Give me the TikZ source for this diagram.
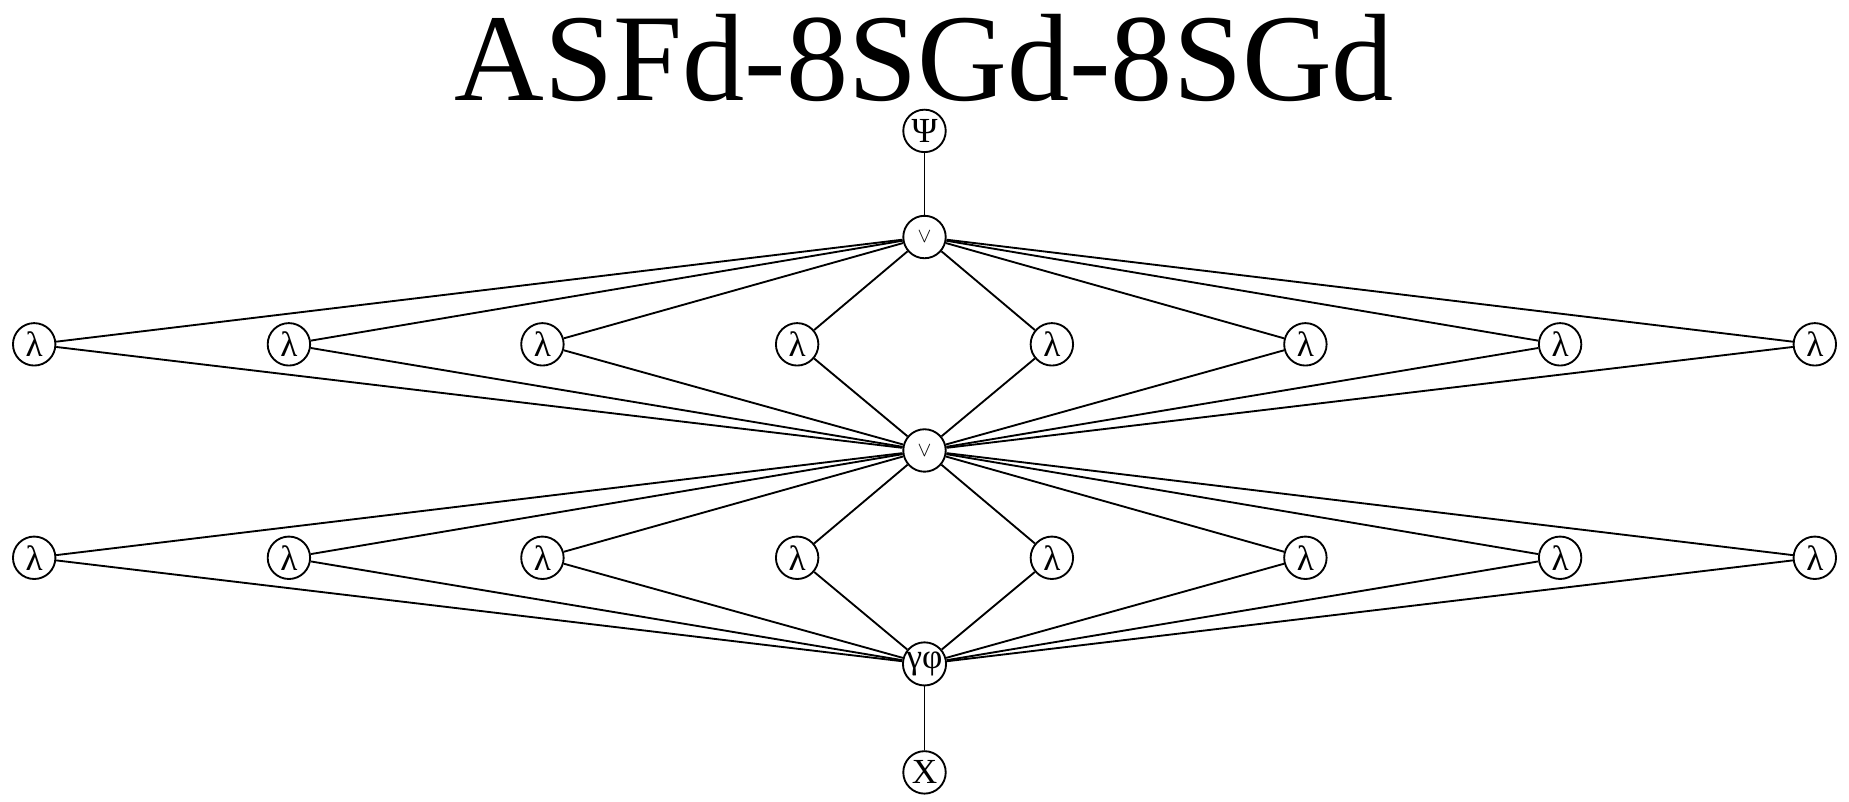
\documentclass[tikz,border=0pt]{standalone}
\usepackage{fontspec}
\setmainfont{Liberation Serif}
\begin{document}
\begin{tikzpicture}[x=0.02cm,y=-0.02cm,
  nd/.style={circle,draw,line width=0.9pt,minimum size=0.72cm,inner sep=0pt,font=\fontsize{17}{17}\selectfont},
  ed/.style={line width=0.9pt}]
\useasboundingbox (0,0) rectangle (1568,680);
\node[font=\fontsize{60}{60}\selectfont,inner sep=0pt] (title) at (784,49) {ASFd-8SGd-8SGd};
\node[nd] (psi) at (784,111) {Ψ};
\node[nd] (or1) at (784,201) {\normalsize$\vee$};
\node[nd] (or2) at (784,382) {\normalsize$\vee$};
\node[nd] (gp) at (784,563) {γφ};
\node[nd] (x) at (784,655) {X};
\foreach \i/\xx in {1/29,2/245,3/460,4/676,5/892,6/1107,7/1323,8/1539}{
  \node[nd] (a\i) at (\xx,292) {λ};
  \node[nd] (b\i) at (\xx,473) {λ};
  \draw[ed] (or1) -- (a\i) -- (or2);
  \draw[ed] (or2) -- (b\i) -- (gp);
}
\draw[ed] (psi) -- (or1);
\draw[ed] (gp) -- (x);
\end{tikzpicture}
\end{document}
